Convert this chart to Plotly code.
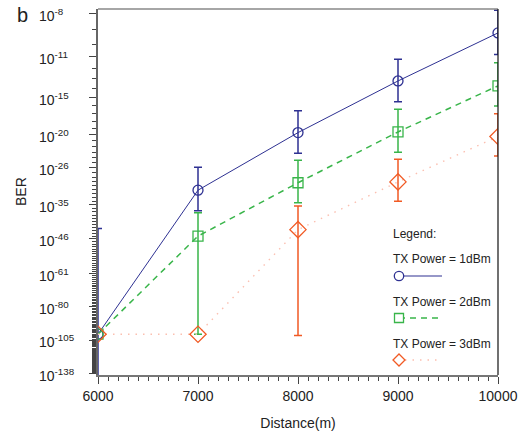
import numpy as np
import plotly.graph_objects as go

# ---------------- data (log10 of BER) ----------------
DISTANCE = [6000, 7000, 8000, 9000, 10000]

LOG10_BER_1DBM = [-100.0, -31.1, -19.7, -13.2, -9.2]
LOG10_BER_1DBM_UPPER = [-42.3, -25.9, -16.6, -11.2, -7.8]
LOG10_BER_1DBM_LOWER = [-240.0, -36.7, -23.2, -15.5, -10.8]

LOG10_BER_2DBM = [-100.0, -45.0, -29.3, -19.6, -13.7]
LOG10_BER_2DBM_UPPER = [None, -37.3, -24.5, -16.4, -11.5]
LOG10_BER_2DBM_LOWER = [None, -100.0, -34.4, -23.0, -16.0]

LOG10_BER_3DBM = [-100.0, -100.0, -42.7, -29.1, -20.3]
LOG10_BER_3DBM_UPPER = [None, None, -35.3, -24.3, -17.0]
LOG10_BER_3DBM_LOWER = [None, None, -101.0, -34.0, -23.7]

SERIES_NAMES = ["TX Power = 1dBm", "TX Power = 2dBm", "TX Power = 3dBm"]

Y_TICK_EXPONENTS = [8, 11, 15, 20, 26, 35, 46, 61, 80, 105, 138]
Y_TICK_LABELS = ["10<sup>-%d</sup>" % e for e in Y_TICK_EXPONENTS]
Y_RANGE_EXPONENTS = [139.7, 7.73]
X_TICKS = [6000, 7000, 8000, 9000, 10000]
X_TICK_LABELS = [str(v) for v in X_TICKS]
X_RANGE = [6000, 10000]

# ---------------- style ----------------
BLUE = "#2e3192"
GREEN = "#39b54a"
RED = "#f15a24"
RED_LINE = "#fbbfb0"
FONT = "Liberation Sans, Arial, sans-serif"

W, H = 526, 439
ML, MR, MT, MB = 98, 28, 9, 64
PW, PH = W - ML - MR, H - MT - MB


def yscale(log_ber):
    """double-log axis: position ~ log10(-log10(BER) - 1)"""
    return np.log10(-np.asarray(log_ber, dtype=float) - 1.0)


def px(x):
    return (x - ML) / PW


def py(y):
    return (H - MB - y) / PH


fig = go.Figure()

series = [
    (LOG10_BER_1DBM, LOG10_BER_1DBM_UPPER, LOG10_BER_1DBM_LOWER, BLUE, BLUE,
     "circle-open", 10, "solid", 1.0),
    (LOG10_BER_2DBM, LOG10_BER_2DBM_UPPER, LOG10_BER_2DBM_LOWER, GREEN, GREEN,
     "square-open", 10, "6px,5px", 1.5),
    (LOG10_BER_3DBM, LOG10_BER_3DBM_UPPER, LOG10_BER_3DBM_LOWER, RED, RED_LINE,
     "diamond-open", 12.5, "1.5px,6px", 1.4),
]

for name, (vals, up, lo, col, lcol, sym, msize, dash, lw) in zip(SERIES_NAMES, series):
    idx = [i for i in range(len(DISTANCE)) if up[i] is not None]
    yv = yscale(vals)
    if idx:
        ex = [DISTANCE[i] for i in idx]
        ey = yv[idx]
        plus = yscale([lo[i] for i in idx]) - ey
        minus = ey - yscale([up[i] for i in idx])
        fig.add_trace(go.Scatter(
            x=ex, y=ey, mode="markers",
            marker=dict(size=1, opacity=0),
            error_y=dict(type="data", symmetric=False, array=plus, arrayminus=minus,
                         color=col, thickness=1.5, width=4),
            showlegend=False, hoverinfo="skip"))
    fig.add_trace(go.Scatter(
        x=DISTANCE, y=yv, mode="lines", name=name,
        line=dict(color=lcol, width=lw, dash=dash), showlegend=False))
    fig.add_trace(go.Scatter(
        x=DISTANCE, y=yv, mode="markers", name=name,
        marker=dict(symbol=sym, size=msize, color=col, line=dict(width=1.3, color=col)),
        showlegend=False))

major_t = list(yscale([-e for e in Y_TICK_EXPONENTS]))
minor_t = list(yscale([-e for e in range(Y_TICK_EXPONENTS[0], Y_TICK_EXPONENTS[-1] + 1)
                       if e not in Y_TICK_EXPONENTS]))

fig.update_xaxes(
    range=X_RANGE, tickmode="array", tickvals=X_TICKS, ticktext=X_TICK_LABELS,
    ticks="outside", ticklen=7, tickwidth=1, tickcolor="#444",
    showline=True, linecolor="#777", linewidth=1.5,
    showgrid=False, zeroline=False,
    tickfont=dict(family=FONT, size=14, color="#222"),
    minor=dict(dtick=100, ticks="outside", ticklen=4, tickcolor="#444", showgrid=False),
    title=dict(text="Distance(m)", font=dict(family=FONT, size=14, color="#222"), standoff=16),
)
fig.update_yaxes(
    range=list(yscale([-e for e in Y_RANGE_EXPONENTS])),
    tickmode="array", tickvals=major_t, ticktext=Y_TICK_LABELS, showticklabels=False,
    ticks="outside", ticklen=7, tickwidth=1, tickcolor="#444",
    showline=True, linecolor="#666", linewidth=1.5,
    showgrid=False, zeroline=False,
    minor=dict(tickmode="array", tickvals=minor_t, ticks="outside", ticklen=4,
               tickcolor="#444", tickwidth=1, showgrid=False),
)

annotations = []
for t, lab in zip(major_t, Y_TICK_LABELS):
    annotations.append(dict(x=px(37), y=t, xref="paper", yref="y", text=lab,
                            xanchor="left", yanchor="middle", yshift=-1, showarrow=False,
                            font=dict(family=FONT, size=14, color="#222")))
annotations.append(dict(x=px(21), y=py(192), xref="paper", yref="paper", text="BER",
                        textangle=-90, showarrow=False, xanchor="center", yanchor="middle",
                        font=dict(family=FONT, size=14, color="#222")))
annotations.append(dict(x=px(22), y=py(15), xref="paper", yref="paper", text="b",
                        showarrow=False, xanchor="center", yanchor="middle",
                        font=dict(family=FONT, size=20, color="#222")))

legend_text = ["Legend:"] + SERIES_NAMES
legend_y = [234, 259, 302, 344]
for txt, yy in zip(legend_text, legend_y):
    annotations.append(dict(x=px(391), y=py(yy), xref="paper", yref="paper", text=txt,
                            showarrow=False, xanchor="left", yanchor="middle",
                            font=dict(family=FONT, size=12, color="#222")))

shapes = [
    dict(type="line", xref="paper", yref="paper", x0=0, x1=1, y0=1, y1=1,
         line=dict(color="#888", width=1.5)),
    dict(type="line", xref="paper", yref="paper", x0=1, x1=1, y0=0, y1=1,
         line=dict(color="#111", width=1.2)),
]
# legend samples
cx = 399
y1 = 276
shapes.append(dict(type="line", xref="paper", yref="paper", x0=px(cx), x1=px(442),
                   y0=py(y1), y1=py(y1), line=dict(color=BLUE, width=1.2)))
shapes.append(dict(type="circle", xref="paper", yref="paper", x0=px(cx - 4.7), x1=px(cx + 4.7),
                   y0=py(y1 + 4.7), y1=py(y1 - 4.7), line=dict(color=BLUE, width=1.3),
                   fillcolor="white"))
y2 = 318
shapes.append(dict(type="line", xref="paper", yref="paper", x0=px(cx), x1=px(442),
                   y0=py(y2), y1=py(y2), line=dict(color=GREEN, width=1.5, dash="6px,5px")))
shapes.append(dict(type="rect", xref="paper", yref="paper", x0=px(cx - 4.5), x1=px(cx + 4.5),
                   y0=py(y2 + 4.5), y1=py(y2 - 4.5), line=dict(color=GREEN, width=1.3),
                   fillcolor="white"))
y3 = 360
shapes.append(dict(type="line", xref="paper", yref="paper", x0=px(cx + 6), x1=px(442),
                   y0=py(y3), y1=py(y3), line=dict(color=RED_LINE, width=1.4, dash="1.5px,6px")))
d = 6
shapes.append(dict(type="path", xref="paper", yref="paper",
                   path="M %f,%f L %f,%f L %f,%f L %f,%f Z" % (
                       px(cx), py(y3 - d), px(cx + d), py(y3), px(cx), py(y3 + d), px(cx - d), py(y3)),
                   line=dict(color=RED, width=1.3), fillcolor="white"))

fig.update_layout(
    width=W, height=H,
    margin=dict(l=ML, r=MR, t=MT, b=MB),
    paper_bgcolor="white", plot_bgcolor="white",
    showlegend=False,
    annotations=annotations, shapes=shapes,
    font=dict(family=FONT, size=14, color="#222"),
)

fig.write_html("out.html", config={"displayModeBar": False},
               post_script="document.body.style.margin='0px';")
